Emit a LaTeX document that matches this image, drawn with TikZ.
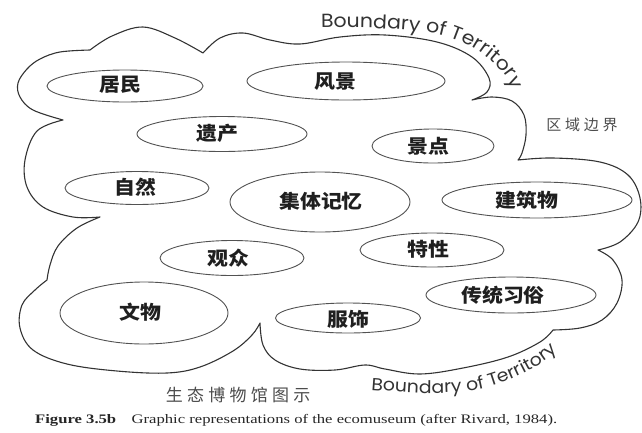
\documentclass[tikz,border=0pt]{standalone}
\usepackage{fontspec}
\usepackage{graphicx}
\setmainfont{Liberation Serif}
\newfontfamily\cjk{Noto Sans CJK SC}[FakeStretch=1.1]
\newfontfamily\cjkg{Noto Sans CJK SC}[LetterSpace=25]
\newfontfamily\bnd{Poppins}[FakeStretch=1.08]
\usetikzlibrary{shapes.geometric,decorations.text}
\begin{document}
\begin{tikzpicture}[x=1pt,y=-1pt,
  ell/.style={draw=black!68, line width=0.9pt, ellipse, inner sep=0pt},
  lbl/.style={font=\cjk\bfseries\fontsize{19}{19}\selectfont, text=black!88, inner sep=0pt},
  bound/.style={draw=black!80, line width=1.1pt, line join=round},
  note/.style={font=\cjkg\fontsize{15}{15}\selectfont, text=black!70, inner sep=0pt}]

\useasboundingbox (0,0) rectangle (642,432);

% territory outline
\draw[bound]
  plot[smooth,tension=0.6] coordinates {(63,120) (33,110) (20,97) (18,83) (27,69) (40,59) (60,52) (90,50)}
  -- plot[smooth,tension=0.6] coordinates {(90,50) (112,36) (143,27) (175,38) (203,53)}
  -- plot[smooth,tension=0.6] coordinates {(203,53) (220,38) (243,33) (270,40) (300,44) (340,37) (385,35) (437,42) (472,57) (489,78) (487,92) (472,100)}
  -- plot[smooth,tension=0.6] coordinates {(472,100) (492,97) (512,101) (524,115) (526,135) (522,153) (518,160)}
  -- plot[smooth,tension=0.6] coordinates {(518,160) (553,158) (600,162) (628,175) (640,198) (638,222) (620,242) (598,250)}
  -- plot[smooth,tension=0.6] coordinates {(598,250) (613,260) (622,280) (617,303) (602,320) (580,328) (553,330)}
  -- plot[smooth,tension=0.6] coordinates {(553,330) (540,342) (508,357) (463,368) (420,374) (385,369) (365,365) (335,370) (300,369) (275,360) (263,345) (260,323)}
  -- plot[smooth,tension=0.6] coordinates {(260,323) (252,335) (233,351) (200,367) (167,373) (117,371) (67,364) (33,350) (20,328) (22,305) (35,290) (47,280)}
  -- plot[smooth,tension=0.6] coordinates {(47,280) (50,265) (58,246) (77,228) (100,217)}
  -- plot[smooth,tension=0.6] coordinates {(100,217) (73,217) (43,207) (27,187) (25,160) (37,131) (63,120)}
  -- cycle;

% ellipses
\node[ell, minimum width=156pt, minimum height=32pt] (e1)  at (125,86)  {};
\node[ell, minimum width=198pt, minimum height=38pt] (e2)  at (346,81)  {};
\node[ell, minimum width=170pt, minimum height=35pt] (e3)  at (222,134) {};
\node[ell, minimum width=122pt, minimum height=34pt] (e4)  at (433,146) {};
\node[ell, minimum width=144pt, minimum height=33pt] (e5)  at (137,188) {};
\node[ell, minimum width=180pt, minimum height=60pt] (e6)  at (320,202) {};
\node[ell, minimum width=190pt, minimum height=36pt] (e7)  at (537,200) {};
\node[ell, minimum width=144pt, minimum height=35pt] (e8)  at (232,258) {};
\node[ell, minimum width=144pt, minimum height=34pt] (e9)  at (432,250) {};
\node[ell, minimum width=170pt, minimum height=36pt] (e10) at (511,295) {};
\node[ell, minimum width=168pt, minimum height=62pt] (e11) at (144,313) {};
\node[ell, minimum width=145pt, minimum height=30pt] (e12) at (348,318) {};

% labels
\node[lbl] (t1)  at (120,85)  {居民};
\node[lbl] (t2)  at (335,82)  {风景};
\node[lbl] (t3)  at (217,133) {遗产};
\node[lbl] (t4)  at (428,146) {景点};
\node[lbl] (t5)  at (135,187) {自然};
\node[lbl] (t6)  at (321,201) {集体记忆};
\node[lbl] (t7)  at (527,200) {建筑物};
\node[lbl] (t8)  at (228,258) {观众};
\node[lbl] (t9)  at (428,249) {特性};
\node[lbl] (t10) at (503,295) {传统习俗};
\node[lbl] (t11) at (140,312) {文物};
\node[lbl] (t12) at (348,319) {服饰};

% side notes
\node[note] (n1) at (582,125) {区域边界};
\node[note, font=\cjkg\fontsize{17}{17}\selectfont] (n2) at (238,395) {生态博物馆图示};

% boundary texts
\path[decorate, decoration={text along path, text align=left,
  text={|\bnd\fontsize{19}{19}\selectfont\color{black!80}|Boundary of Territory}}]
  plot[smooth] coordinates {(321,28) (370,28) (418,31) (448,37) (474,48) (494,63) (508,80) (515,98) (518,112)};
\path[decorate, decoration={text along path, text align=left,
  text={|\bnd\fontsize{17.5}{17.5}\selectfont\color{black!80}|Boundary of Territory}}]
  plot[smooth] coordinates {(371,390) (420,393) (460,392) (492,386) (522,374) (548,359) (567,341) (580,323) (588,305)};

% caption
\node[anchor=base west, inner sep=0pt, text=black!85] (cap) at (35,423)
  {\scalebox{1.28}[1]{\fontsize{13}{13}\selectfont\textbf{Figure 3.5b}\hspace{12pt}Graphic representations of the ecomuseum (after Rivard, 1984).}};
\end{tikzpicture}
\end{document}
